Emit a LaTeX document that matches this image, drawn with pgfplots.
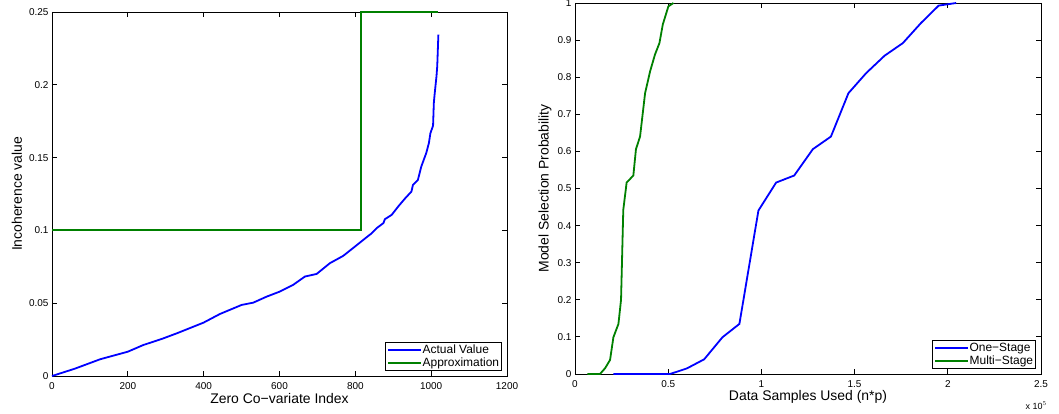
\documentclass[border=0pt]{standalone}
\usepackage{fontspec}
\setmainfont{Liberation Sans}
\usepackage{pgfplots}
\pgfplotsset{compat=1.18}
\definecolor{mblue}{rgb}{0,0,1}
\definecolor{mgreen}{rgb}{0,0.5,0}

\newcommand{\labfont}{\fontsize{14}{16}\selectfont}

\pgfplotsset{
  mat/.style={
    scale only axis, clip=false,
    axis line style={line width=0.8bp},
    tick align=inside, xtick pos=both, ytick pos=both,
    major tick length=5bp,
    every tick/.style={black, line width=0.8bp},
    tick label style={font=\fontsize{10}{12}\selectfont},
    /pgf/number format/assume math mode=true,
    /pgf/number format/1000 sep={},
    every axis x label/.style={at={(rel axis cs:0.5,0)}, yshift=-23bp, anchor=center, font=\labfont},
    xticklabel style={yshift=-3bp},
    scaled y ticks=false,
    legend style={at={(rel axis cs:1,0)}, anchor=south east, xshift=-5bp, yshift=5bp,
      font=\fontsize{12}{14}\selectfont, draw=black, line width=0.8bp,
      inner xsep=2bp, inner ysep=1bp,
      nodes={inner sep=0.5bp, text height=9bp, text depth=3bp}},
    legend cell align=left,
    legend image code/.code={\draw[#1, line width=1.8bp] (0bp,0bp) -- (33bp,0bp);},
  }
}

\begin{document}
\begin{tikzpicture}
\path[use as bounding box] (0,0) rectangle (1059bp,414bp);

% left: incoherence
\begin{axis}[mat, at={(52bp,38bp)}, anchor=south west, width=455bp, height=364bp,
  xmin=0, xmax=1200, ymin=0, ymax=0.25,
  xtick={0,200,...,1200}, ytick={0,0.05,0.1,0.15,0.2,0.25},
  yticklabel style={/pgf/number format/fixed, /pgf/number format/precision=2},
  every axis y label/.style={at={(rel axis cs:0,0.5)}, xshift=-35bp, rotate=90, anchor=center, font=\labfont},
  xlabel={Zero Co−variate Index}, ylabel={Incoherence value}]
\addplot[mblue, line width=1.8bp] coordinates {
 (0,0) (60,0.005) (127,0.0115) (200,0.0167) (241,0.0213) (290,0.0255) (329,0.0293)
 (400,0.0367) (443,0.0426) (500,0.0488) (531,0.0504) (566,0.0545) (601,0.058)
 (636,0.0626) (667,0.0683) (698,0.0701) (733,0.0775) (768,0.0825) (799,0.0889)
 (821,0.0935) (843,0.098) (856,0.1015) (874,0.105) (878,0.1077) (896,0.1107)
 (913,0.1164) (931,0.1219) (948,0.1267) (952,0.1313) (965,0.1347) (974,0.1439)
 (987,0.1531) (994,0.16) (998,0.1668) (1005,0.1719) (1007,0.1874) (1009,0.1932)
 (1014,0.2058) (1016,0.2127) (1019,0.2344)
};
\addplot[mgreen, line width=1.8bp] coordinates {
 (0,0.1) (815,0.1) (815,0.25) (1019,0.25)
};
\legend{Actual Value, Approximation}
\end{axis}

% right: model selection probability
\begin{axis}[mat, at={(575bp,40bp)}, anchor=south west, width=466bp, height=371bp,
  xmin=0, xmax=250000, ymin=0, ymax=1,
  xtick={0,50000,100000,150000,200000,250000},
  ytick={0,0.1,0.2,0.3,0.4,0.5,0.6,0.7,0.8,0.9,1},
  scaled x ticks=base 10:-5,
  xtick scale label code/.code={x 10$^{5}$},
  every x tick scale label/.style={at={(rel axis cs:1,0)}, xshift=6bp, yshift=-29bp,
    anchor=east, inner sep=0pt, font=\fontsize{9}{10}\selectfont},
  yticklabel style={/pgf/number format/fixed, /pgf/number format/precision=1},
  every axis y label/.style={at={(rel axis cs:0,0.5)}, xshift=-30bp, rotate=90, anchor=center, font=\labfont},
  xlabel={Data Samples Used (n*p)}, ylabel={Model Selection Probability}]
\addplot[mblue, line width=1.8bp] coordinates {
 (20600,0) (51000,0) (60000,0.015) (69300,0.0396) (79100,0.099) (88200,0.135)
 (98400,0.4406) (107900,0.516) (117600,0.535) (127600,0.606) (137300,0.640)
 (146700,0.757) (156200,0.811) (166100,0.858) (175900,0.892) (185600,0.946)
 (195100,0.993) (204500,1.0)
};
\addplot[mgreen, line width=1.8bp] coordinates {
 (6600,0) (13400,0) (16100,0.0153) (18800,0.0378) (20600,0.099) (23300,0.135)
 (24700,0.2) (25900,0.4424) (27700,0.516) (31300,0.535) (32700,0.606)
 (34900,0.640) (37600,0.757) (40300,0.816) (42900,0.861) (45300,0.892)
 (47100,0.942) (50100,0.991) (52800,1.0)
};
\legend{One−Stage, Multi−Stage}
\end{axis}
\end{tikzpicture}
\end{document}
